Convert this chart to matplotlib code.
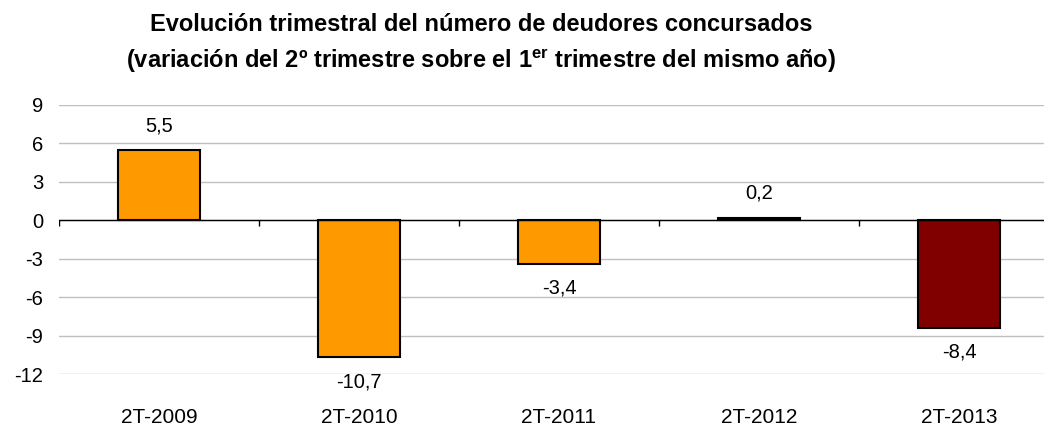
import numpy as np
import matplotlib.pyplot as plt

plt.rcParams['font.family'] = ['Liberation Sans', 'DejaVu Sans']
plt.rcParams['mathtext.fontset'] = 'custom'
plt.rcParams['mathtext.rm'] = 'Liberation Sans'
plt.rcParams['mathtext.bf'] = 'Liberation Sans:bold'

# datos
periodos = ['2T-2009', '2T-2010', '2T-2011', '2T-2012', '2T-2013']
variacion = [5.5, -10.7, -3.4, 0.2, -8.4]
colores = ['#FF9900', '#FF9900', '#FF9900', '#FF9900', '#800000']
yticks = [9, 6, 3, 0, -3, -6, -9, -12]

fig = plt.figure(figsize=(10.44, 4.25), dpi=100)
ax = fig.add_axes([59 / 1044, 1 - 374 / 425, 1000 / 1044, (374 - 105) / 425])

x = np.arange(len(periodos))
ax.bar(x, variacion, width=0.41, color=colores, edgecolor='black', linewidth=1.5, zorder=3)

ax.set_xlim(-0.5, len(periodos) - 0.5)
ax.set_ylim(-12, 9)
ax.set_yticks(yticks)
ax.set_yticklabels([str(v) for v in yticks], fontsize=14.5)
ax.tick_params(axis='y', length=0, pad=11.5)
ax.set_xticks(x)
ax.set_xticklabels(periodos, fontsize=15)
ax.tick_params(axis='x', length=0, pad=24.5)

for s in ax.spines.values():
    s.set_visible(False)
ax.grid(axis='y', color='#C0C0C0', linewidth=1, zorder=0)

# linea del cero con marcas entre categorias
ax.axhline(0, color='black', linewidth=1, zorder=4)
ax.vlines(np.arange(len(periodos) + 1) - 0.5, -0.45, 0, color='black', linewidth=1, zorder=4)

for xi, v in zip(x, variacion):
    txt = f'{v:.1f}'.replace('.', ',')
    off = 17.5 if v >= 0 else -17.5
    ax.annotate(txt, (xi, v), xytext=(0, off), textcoords='offset points',
                ha='center', va='center', fontsize=14.5)

fig.text(0.461, 1 - 31 / 425, 'Evolución trimestral del número de deudores concursados',
         ha='center', va='baseline', fontsize=17, fontweight='bold')
fig.text(0.461, 1 - 68 / 425,
         r'(variación del 2º trimestre sobre el 1$^{\mathbf{er}}$ trimestre del mismo año)',
         ha='center', va='baseline', fontsize=17, fontweight='bold')

fig.savefig('out.png', dpi=100)
